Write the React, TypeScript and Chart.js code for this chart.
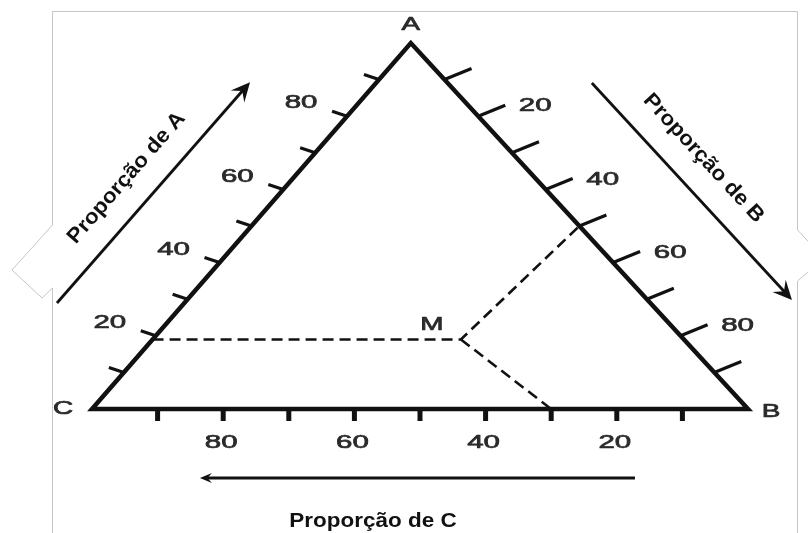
import { useEffect, useRef } from "react";
import { Chart, registerables } from "chart.js";

Chart.register(...registerables);

// ---------------- data ----------------
const vertexNames = ["A", "B", "C"];
const tickValues = [10, 20, 30, 40, 50, 60, 70, 80, 90];
const labelValues = [20, 40, 60, 80];
const axisTitles = ["Proporção de A", "Proporção de B", "Proporção de C"];
const pointName = "M";
// composition of M (A, B, C in %) as placed in the figure
const pointM = [19, 47, 34];
// values read on the three edges by the dashed guide lines (A, B, C in %)
const readingsM = [19, 50, 30];

// ---------------- layout ----------------
const W = 808;
const H = 533;
const APEX_SKEW = 0.486; // horizontal position of apex A along the base (fraction)
const X_MIN = -14.024;
const X_MAX = 109.146;
const Y_MIN = -33.879;
const Y_MAX = 111.749;
const STRETCH = 1.55; // the figure is stretched horizontally
const FONT_FAMILY = '"Liberation Sans", Arial, Helvetica, sans-serif';

// arrows (in plane coordinates of the chart)
const arrowA = [{ x: -5.34, y: 28.96 }, { x: 24.09, y: 89.3 }];
const arrowB = [{ x: 76.2, y: 89.07 }, { x: 106.7, y: 29.8 }];
const arrowC = [{ x: 82.77, y: -18.85 }, { x: 16.46, y: -18.85 }];

function toPlane(a: number, b: number, c: number) {
  const s = a + b + c;
  const A = (a / s) * 100;
  const B = (b / s) * 100;
  return { x: B + APEX_SKEW * A, y: A };
}

const vA = toPlane(100, 0, 0);
const vB = toPlane(0, 100, 0);
const vC = toPlane(0, 0, 100);
const baseMid = toPlane(0, 50, 50);

const mPlane = toPlane(pointM[0], pointM[1], pointM[2]);
const guideLeft = toPlane(readingsM[0], 0, 100 - readingsM[0]);
const guideRight = toPlane(100 - readingsM[1], readingsM[1], 0);
const guideBottom = toPlane(0, 100 - readingsM[2], readingsM[2]);

function drawStretched(ctx: CanvasRenderingContext2D, text: string, x: number, y: number) {
  ctx.save();
  ctx.translate(x, y);
  ctx.scale(STRETCH, 1);
  ctx.lineWidth = 0.7;
  ctx.lineJoin = "round";
  ctx.strokeText(text, 0, 0);
  ctx.fillText(text, 0, 0);
  ctx.restore();
}

function drawArrow(
  ctx: CanvasRenderingContext2D,
  x1: number, y1: number, x2: number, y2: number,
  headLen: number, headW: number, lw: number
) {
  const ang = Math.atan2(y2 - y1, x2 - x1);
  ctx.lineWidth = lw;
  ctx.lineCap = "butt";
  ctx.beginPath();
  ctx.moveTo(x1, y1);
  ctx.lineTo(x2 - Math.cos(ang) * headLen * 0.6, y2 - Math.sin(ang) * headLen * 0.6);
  ctx.stroke();
  ctx.save();
  ctx.translate(x2, y2);
  ctx.rotate(ang);
  ctx.beginPath();
  ctx.moveTo(0, 0);
  ctx.lineTo(-headLen, -headW);
  ctx.lineTo(-headLen * 0.62, 0);
  ctx.lineTo(-headLen, headW);
  ctx.closePath();
  ctx.fill();
  ctx.restore();
}

const ternaryPlugin = {
  id: "ternaryDecor",
  beforeDraw(chart: any) {
    const ctx: CanvasRenderingContext2D = chart.ctx;
    ctx.save();
    ctx.fillStyle = "#ffffff";
    ctx.fillRect(0, 0, chart.width, chart.height);
    ctx.strokeStyle = "#c6c6c6";
    ctx.lineWidth = 1;
    ctx.beginPath();
    ctx.moveTo(52.5, 533);
    ctx.lineTo(52.5, 288);
    ctx.lineTo(42, 298);
    ctx.lineTo(12, 270);
    ctx.lineTo(52.5, 225);
    ctx.lineTo(52.5, 11.5);
    ctx.lineTo(797.5, 11.5);
    ctx.lineTo(797.5, 230);
    ctx.lineTo(822, 256);
    ctx.lineTo(808, 272);
    ctx.lineTo(797.5, 281);
    ctx.lineTo(797.5, 533);
    ctx.stroke();
    ctx.restore();
  },
  afterDatasetsDraw(chart: any) {
    const ctx: CanvasRenderingContext2D = chart.ctx;
    const xs = chart.scales.x;
    const ys = chart.scales.y;
    const px = (p: { x: number; y: number }) => ({
      x: xs.getPixelForValue(p.x),
      y: ys.getPixelForValue(p.y),
    });
    ctx.save();
    ctx.strokeStyle = "#111";
    ctx.fillStyle = "#111";
    ctx.lineCap = "butt";

    // ticks
    for (const t of tickValues) {
      const l = px(toPlane(t, 0, 100 - t));
      ctx.lineWidth = 3.2;
      ctx.beginPath();
      ctx.moveTo(l.x, l.y);
      ctx.lineTo(l.x - 15, l.y - 5);
      ctx.stroke();

      const r = px(toPlane(100 - t, t, 0));
      ctx.beginPath();
      ctx.moveTo(r.x, r.y);
      ctx.lineTo(r.x + 27, r.y - 11);
      ctx.stroke();

      const b = px(toPlane(0, 100 - t, t));
      ctx.lineWidth = 5;
      ctx.beginPath();
      ctx.moveTo(b.x, b.y);
      ctx.lineTo(b.x, b.y + 12);
      ctx.stroke();
    }

    // tick labels
    ctx.fillStyle = "#2a2a2a";
    ctx.strokeStyle = "#2a2a2a";
    ctx.font = `19px ${FONT_FAMILY}`;
    ctx.textAlign = "center";
    ctx.textBaseline = "middle";
    for (const v of labelValues) {
      const l = px(toPlane(v, 0, 100 - v));
      drawStretched(ctx, String(v), l.x - 46, l.y - 13);
      const r = px(toPlane(100 - v, v, 0));
      drawStretched(ctx, String(v), r.x + 57, r.y - 10);
      const b = px(toPlane(0, 100 - v, v));
      drawStretched(ctx, String(v), b.x - 2, b.y + 34);
    }

    // vertex labels
    ctx.font = `18px ${FONT_FAMILY}`;
    const pA = px(vA);
    const pB = px(vB);
    const pC = px(vC);
    drawStretched(ctx, vertexNames[0], pA.x, pA.y - 18);
    drawStretched(ctx, vertexNames[1], pB.x + 23, pB.y + 3);
    drawStretched(ctx, vertexNames[2], pC.x - 29, pC.y);

    // point label
    const pM = px(mPlane);
    drawStretched(ctx, pointName, pM.x - 29, pM.y - 14);

    // arrows + titles
    ctx.fillStyle = "#111";
    ctx.strokeStyle = "#111";
    const arrows = [
      { a: arrowA, along: 140, perp: 30, head: [19, 9], title: axisTitles[0] },
      { a: arrowB, along: 131, perp: 31, head: [19, 9], title: axisTitles[1] },
      { a: arrowC, along: 262, perp: 43, head: [12, 5], title: axisTitles[2] },
    ];
    for (const ar of arrows) {
      const s = px(ar.a[0]);
      const e = px(ar.a[1]);
      drawArrow(ctx, s.x, s.y, e.x, e.y, ar.head[0], ar.head[1], 2.8);
      const len = Math.hypot(e.x - s.x, e.y - s.y);
      const ux = (e.x - s.x) / len;
      const uy = (e.y - s.y) / len;
      const nx = uy;
      const ny = -ux;
      const cx = s.x + ux * ar.along + nx * ar.perp;
      const cy = s.y + uy * ar.along + ny * ar.perp;
      let ang = Math.atan2(uy, ux);
      if (ang > Math.PI / 2) ang -= Math.PI;
      if (ang < -Math.PI / 2) ang += Math.PI;
      ctx.save();
      ctx.translate(cx, cy);
      ctx.rotate(ang);
      ctx.font = `bold 21px ${FONT_FAMILY}`;
      ctx.textAlign = "center";
      ctx.textBaseline = "middle";
      ctx.scale(1.07, 1);
      ctx.fillText(ar.title, 0, 0);
      ctx.restore();
    }
    ctx.restore();
  },
};

export default function App() {
  const ref = useRef<HTMLCanvasElement>(null);
  useEffect(() => {
    const canvas = ref.current;
    if (!canvas) return;
    const gap = { x: mPlane.x, y: null as any };
    const chart = new Chart(canvas, {
      type: "scatter",
      data: {
        datasets: [
          {
            label: "triangle",
            data: [baseMid, vB, vA, vC, baseMid],
            showLine: true,
            fill: false,
            borderColor: "#111",
            borderWidth: 4.5,
            borderJoinStyle: "miter",
            pointRadius: 0,
            tension: 0,
          } as any,
          {
            label: "guides",
            data: [guideLeft, mPlane, guideRight, gap, mPlane, guideBottom],
            showLine: true,
            fill: false,
            spanGaps: false,
            borderColor: "#111",
            borderWidth: 2.6,
            borderDash: [11, 6],
            pointRadius: 0,
            tension: 0,
          } as any,
        ],
      },
      options: {
        animation: false,
        responsive: false,
        maintainAspectRatio: false,
        devicePixelRatio: 1,
        events: [],
        layout: { padding: 0 },
        scales: {
          x: { type: "linear", min: X_MIN, max: X_MAX, display: false },
          y: { type: "linear", min: Y_MIN, max: Y_MAX, display: false },
        },
        plugins: {
          legend: { display: false },
          tooltip: { enabled: false },
          title: { display: false },
        },
      },
      plugins: [ternaryPlugin],
    });
    return () => chart.destroy();
  }, []);
  return (
    <div style={{ position: "fixed", left: 0, top: 0, width: W, height: H, background: "#fff" }}>
      <canvas ref={ref} width={W} height={H} style={{ display: "block", width: W, height: H }} />
    </div>
  );
}
